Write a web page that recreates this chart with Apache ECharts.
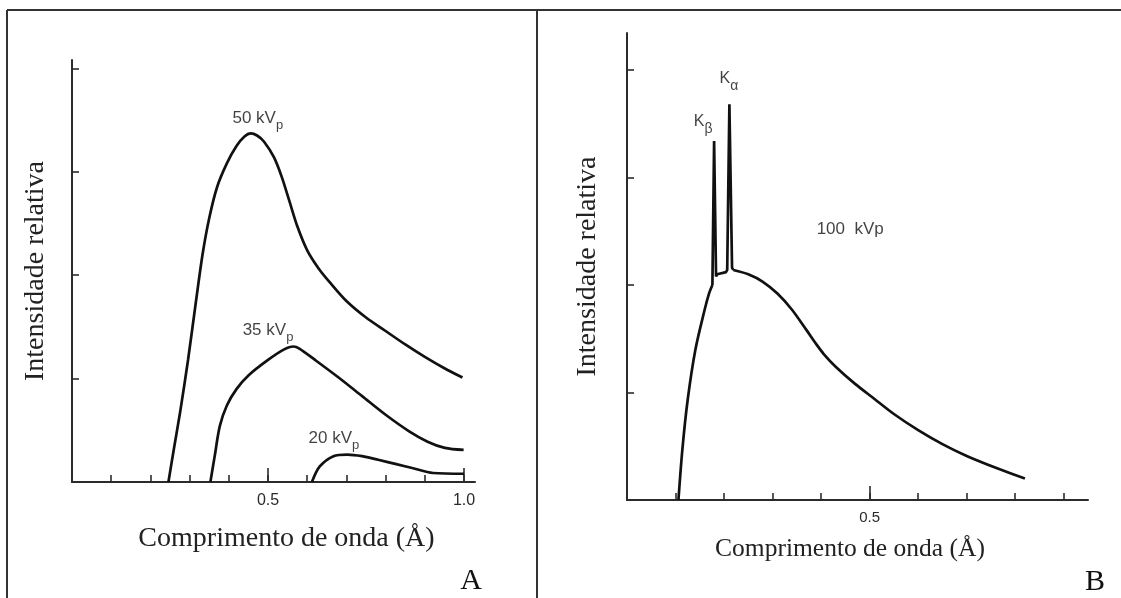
<!DOCTYPE html>
<html>
<head>
<meta charset="utf-8">
<script src="https://cdn.jsdelivr.net/npm/echarts@6/dist/echarts.min.js"></script>
<style>
html,body{margin:0;padding:0;background:#fff;}
#chart{width:1121px;height:598px;}
</style>
</head>
<body>
<div id="chart"></div>
<script>
// ---- Data ----
// Panel A: wavelength (Å) vs relative intensity
var a50kVp = [[0.246,0],[0.259,0.30],[0.276,0.68],[0.296,1.18],[0.316,1.74],[0.333,2.20],[0.35,2.55],[0.37,2.85],[0.395,3.08],[0.42,3.25],[0.44,3.34],[0.456,3.37],[0.472,3.35],[0.49,3.29],[0.515,3.14],[0.535,2.95],[0.555,2.71],[0.575,2.47],[0.60,2.24],[0.63,2.06],[0.66,1.92],[0.70,1.75],[0.75,1.59],[0.80,1.46],[0.85,1.33],[0.90,1.21],[0.95,1.10],[0.996,1.01]];
var a35kVp = [[0.353,0],[0.364,0.25],[0.377,0.54],[0.395,0.74],[0.42,0.90],[0.45,1.03],[0.50,1.18],[0.54,1.28],[0.565,1.31],[0.58,1.29],[0.62,1.18],[0.68,1.01],[0.74,0.83],[0.80,0.65],[0.86,0.49],[0.907,0.39],[0.951,0.33],[0.999,0.31]];
var a20kVp = [[0.612,0],[0.632,0.15],[0.667,0.25],[0.702,0.265],[0.74,0.25],[0.781,0.215],[0.83,0.17],[0.868,0.135],[0.921,0.087],[1.0,0.08]];
// Panel B: 100 kVp spectrum with characteristic lines
var b100Rise  = [[0.106,0],[0.114,0.465],[0.125,0.93],[0.141,1.40],[0.16,1.77],[0.169,1.92],[0.176,2.0]];
var b100Lines = [[0.176,2.0],[0.1795,3.34],[0.1835,2.08],[0.186,2.1],[0.204,2.12],[0.2065,2.14],[0.211,3.68],[0.2165,2.16],[0.219,2.14]];
var b100Tail  = [[0.219,2.14],[0.25,2.10],[0.28,2.03],[0.31,1.92],[0.34,1.77],[0.37,1.58],[0.39,1.45],[0.405,1.36],[0.43,1.24],[0.47,1.08],[0.51,0.94],[0.55,0.80],[0.60,0.65],[0.65,0.52],[0.70,0.41],[0.76,0.30],[0.82,0.20]];
// Tick positions and labels
var aXTicks = [0.1,0.2,0.3,0.4,0.5,0.6,0.7,0.8,0.9,1.0];
var aXMajor = [0.5,1.0];
var bXTicks = [0.1,0.2,0.3,0.4,0.5,0.6,0.7,0.8,0.9];
var bXMajor = [0.5];
var yTicks  = [1,2,3,4];
// Annotations: [x, y, main, subscript]
var aNotes = [[0.474,3.47,'50 kV','p'],[0.5,1.42,'35 kV','p'],[0.668,0.37,'20 kV','p']];
var bNotes = [[0.46,2.52,'100  kVp','']];
var bLineNotes = [[0.210,3.86,'K','α'],[0.157,3.46,'K','β']];

var INK = '#111';
var AXIS = '#2b2b2b';
var SERIF = '"Liberation Serif","Times New Roman",serif';
var SANS = '"Liberation Sans",Arial,sans-serif';

function curve(data, xi, yi, smooth){
  return {type:'line', xAxisIndex:xi, yAxisIndex:yi, data:data, showSymbol:false, symbol:'none',
    smooth:smooth, lineStyle:{color:INK, width:2.7}, silent:true, z:3};
}
function notes(data, xi, yi, big, small, drop){
  return {type:'scatter', xAxisIndex:xi, yAxisIndex:yi, symbolSize:1, silent:true,
    itemStyle:{color:'rgba(0,0,0,0)'},
    data:data.map(function(d){return {value:[d[0],d[1]], m:d[2], s:d[3]};}),
    label:{show:true, position:'inside',
      formatter:function(p){ return '{m|'+p.data.m+'}' + (p.data.s ? '{s|'+p.data.s+'}' : ''); },
      rich:{
        m:{fontFamily:SANS, fontSize:big, color:INK, verticalAlign:'bottom', lineHeight:big, padding:[0,0,drop,0]},
        s:{fontFamily:SANS, fontSize:small, color:INK, verticalAlign:'bottom', lineHeight:small}
      }}
  };
}
function xMinor(grid, max, ticks, title, gap, pad, fs){
  return {type:'value', gridIndex:grid, position:'bottom', min:0, max:max, splitLine:{show:false},
    axisLine:{show:true, onZero:false, lineStyle:{color:AXIS, width:2}},
    axisTick:{show:true, inside:true, length:7, customValues:ticks, lineStyle:{color:AXIS, width:1.6}},
    axisLabel:{show:false},
    name:title, nameLocation:'middle', nameGap:gap,
    nameTextStyle:{fontFamily:SERIF, fontSize:fs, color:'#222', padding:pad}};
}
function xMajor(grid, max, ticks, fs, margin){
  return {type:'value', gridIndex:grid, position:'bottom', offset:0, min:0, max:max, splitLine:{show:false},
    axisLine:{show:false, onZero:false},
    axisTick:{show:true, inside:true, length:14, customValues:ticks, lineStyle:{color:AXIS, width:1.6}},
    axisLabel:{show:true, customValues:ticks, margin:margin, fontFamily:SANS, fontSize:fs, color:'#2a2a2a',
      formatter:function(v){return v.toFixed(1);}}};
}
function yAx(grid, max, gap){
  return {type:'value', gridIndex:grid, min:0, max:max, splitLine:{show:false},
    axisLine:{show:true, onZero:false, lineStyle:{color:AXIS, width:2}},
    axisTick:{show:true, inside:true, length:7, customValues:yTicks, lineStyle:{color:AXIS, width:1.6}},
    axisLabel:{show:false},
    name:'Intensidade relativa', nameLocation:'middle', nameGap:gap,
    nameTextStyle:{fontFamily:SERIF, fontSize:28, color:'#222'}};
}

var chart = echarts.init(document.getElementById('chart'), null, {renderer:'canvas'});
chart.setOption({
  animation:false,
  backgroundColor:'#fff',
  grid:[
    {left:72, top:60, width:403, height:422},
    {left:627, top:33, width:461, height:467}
  ],
  xAxis:[
    xMinor(0, 1.028, aXTicks, 'Comprimento de onda (Å)', 43, [0,0,0,26], 28),
    xMajor(0, 1.028, aXMajor, 16, 11),
    xMinor(1, 0.95, bXTicks, 'Comprimento de onda (Å)', 36, [0,15,0,0], 25.5),
    xMajor(1, 0.95, bXMajor, 15, 10)
  ],
  yAxis:[ yAx(0, 4.08, 22), yAx(1, 4.344, 25) ],
  series:[
    curve(a50kVp,0,0,0.3),
    curve(a35kVp,0,0,0.3),
    curve(a20kVp,0,0,0.3),
    curve(b100Rise,2,1,0.3),
    curve(b100Lines,2,1,false),
    curve(b100Tail,2,1,0.3),
    notes(aNotes,0,0,17,13,5),
    notes(bNotes,2,1,17,13,0),
    notes(bLineNotes,2,1,16,14,6)
  ],
  graphic:[
    {type:'line', shape:{x1:7,y1:10,x2:1121,y2:10}, style:{stroke:'#333', lineWidth:2}},
    {type:'line', shape:{x1:7,y1:10,x2:7,y2:598}, style:{stroke:'#333', lineWidth:2}},
    {type:'line', shape:{x1:537,y1:10,x2:537,y2:598}, style:{stroke:'#333', lineWidth:2}},
    {type:'text', x:471, y:581, style:{text:'A', font:'30px "Liberation Serif"', fill:'#111', align:'center', verticalAlign:'middle'}},
    {type:'text', x:1095, y:582, style:{text:'B', font:'30px "Liberation Serif"', fill:'#111', align:'center', verticalAlign:'middle'}}
  ]
});
</script>
</body>
</html>
